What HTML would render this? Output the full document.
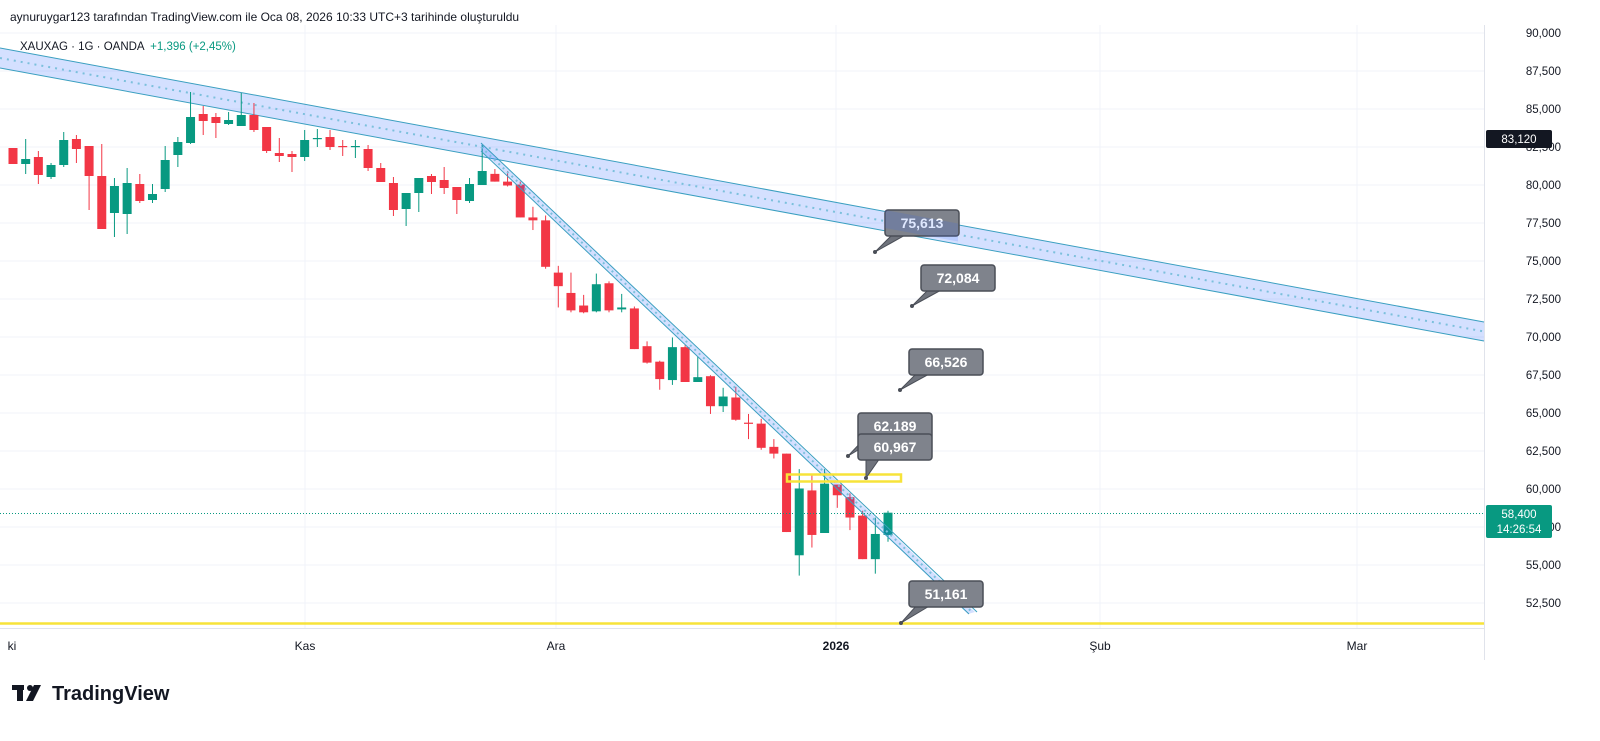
<!DOCTYPE html>
<html><head><meta charset="utf-8"><style>
html,body{margin:0;padding:0;background:#fff;width:1600px;height:741px;overflow:hidden;font-family:"Liberation Sans",sans-serif}
</style></head><body>
<svg id="s" width="1600" height="741" xmlns="http://www.w3.org/2000/svg" font-family="Liberation Sans, sans-serif"></svg>
<script>
var o='';
function y(p){return 33+(90000-p)/2500*38;}
// grid
for(var p=52500;p<=90000;p+=2500){var yy=y(p);o+='<line x1="0" y1="'+yy+'" x2="1484" y2="'+yy+'" stroke="#f0f3fa" stroke-width="1"/>';
o+='<text x="1561" y="'+(yy+4)+'" font-size="11.5" fill="#131722" text-anchor="end">'+(p/1000).toFixed(3).replace('.',',')+'</text>';}
[305,556,836,1100,1357].forEach(function(x){o+='<line x1="'+x+'" y1="25" x2="'+x+'" y2="628" stroke="#f0f3fa"/>';});
o+='<line x1="1484.5" y1="25" x2="1484.5" y2="660" stroke="#e0e3eb"/>';
o+='<line x1="0" y1="628.5" x2="1484" y2="628.5" stroke="#e0e3eb"/>';
// big channel
o+='<polygon points="0,48 1484,322 1484,341 0,68" fill="rgba(41,98,255,0.2)"/>';
o+='<line x1="0" y1="48" x2="1484" y2="322" stroke="#3a9fc0" stroke-width="1"/>';
o+='<line x1="0" y1="68" x2="1484" y2="341" stroke="#3a9fc0" stroke-width="1"/>';
o+='<line x1="0" y1="58" x2="1484" y2="331.5" stroke="#7cc0dc" stroke-width="2" stroke-dasharray="2,5"/>';
// candles
var A=[[148,164,148,164,0],[164,159,139,174,1],[157,175,151,184,0],[177,165,163,179,1],[165,140,132,167,1],[139,149,135,163,0],[146,176,146,210,0],[176,229,144,229,0],[213,186,178,237,1],[214,183,168,234,1],[184,201,174,203,0],[200,194,184,203,1],[189,160,146,192,1],[155,142,137,167,1],[143,117,92,144,1],[114,121,106,135,0],[117,123,113,138,0],[124,120,112,125,1],[126,115,93,126,1],[115,130,103,132,0],[127,151,127,153,0],[153,156,138,162,0],[154,157,151,172,0],[157,140,130,161,1],[139,138,129,147,1],[137,147,130,150,0],[146,147,140,156,0],[147,146,140,158,1],[149,168,145,171,0],[168,182,163,182,0],[183,210,177,216,0],[209,193,193,226,1],[193,178,178,212,1],[176,182,174,194,0],[180,188,167,194,0],[187,200,187,214,0],[201,184,178,203,1],[185,171,145,185,1]];
var B=[[175,183,170,183,0],[183,187,172,188,0],[186,220,183,220,0],[220,223,209,233,0],[223,271,218,273,0],[277,291,270,313,0],[298,316,277,318,0],[311,318,300,319,0],[317,289,278,318,1],[288,316,286,318,0],[315,313,299,318,1],[314,356,312,356,0],[353,370,348,371,0],[369,387,368,398,0],[388,354,344,393,1],[354,390,352,390,0],[390,385,364,390,1],[384,415,383,423,0],[415,405,396,421,1],[406,429,395,430,0],[432,433,423,449,0],[433,458,428,460,0],[457,464,449,469,0],[464,545,464,545,0],[569,500,480,590,1],[502,548,486,561,0],[546,495,480,546,1],[496,507,496,520,0],[509,530,505,543,0],[528,573,523,573,0],[573,547,530,588,1],[548,525,523,555,1]];
B=B.map(function(c){return c.map(function(v,i){return i<4?140+(v-140)*0.968:v;});});
var C=A.concat(B);
C.forEach(function(c,i){var x=13+i*(875/(C.length-1));var col=c[4]?'#089981':'#f23645';
var t=Math.min(c[0],c[1]),h=Math.max(1.2,Math.abs(c[1]-c[0]));
o+='<line x1="'+x+'" y1="'+c[2]+'" x2="'+x+'" y2="'+c[3]+'" stroke="'+col+'" stroke-width="1"/>';
o+='<rect x="'+(x-4.5)+'" y="'+t+'" width="9" height="'+h+'" fill="'+col+'"/>';});
// steep channel
o+='<polygon points="481,143 975,612 968,614 481,150" fill="rgba(41,98,255,0.2)"/>';
o+='<line x1="481" y1="143" x2="977" y2="612" stroke="#3a9fc0"/>';
o+='<line x1="481" y1="151" x2="969" y2="614" stroke="#3a9fc0"/>';
o+='<line x1="481" y1="147" x2="973" y2="613" stroke="#7cc0dc" stroke-width="2" stroke-dasharray="2,4"/>';
// current price line
o+='<line x1="0" y1="513.5" x2="1484" y2="513.5" stroke="#089981" stroke-dasharray="1,2"/>';
// yellow
o+='<rect x="787" y="474.5" width="114" height="7" fill="none" stroke="#f7e33a" stroke-width="2.5"/>';
o+='<line x1="0" y1="623.5" x2="1484" y2="623.5" stroke="#f7e33a" stroke-width="2.5"/>';
// callouts
function cl(bx,by,txt,dx,dy){
o+='<polygon points="'+(bx+8)+','+(by+24)+' '+(bx+22)+','+(by+24)+' '+dx+','+dy+'" fill="#6f737c" stroke="#4a4e57"/>';
o+='<rect x="'+bx+'" y="'+by+'" width="74" height="26" rx="3" fill="#7f838c" stroke="#4a4e57" stroke-width="1.5"/>';
o+='<text x="'+(bx+37)+'" y="'+(by+18)+'" font-size="14" font-weight="bold" fill="#fff" text-anchor="middle">'+txt+'</text>';
o+='<circle cx="'+dx+'" cy="'+dy+'" r="2" fill="#4a4e57"/>';}
cl(885,210,'75,613',875,252);
cl(921,265,'72,084',912,306);
cl(909,349,'66,526',900,390);
cl(858,413,'62.189',848,456);
cl(858,434,'60,967',866,478);
cl(909,581,'51,161',901,623);
// overlay channel piece over 75,613 box
o+='<polygon points="885,210 958,223.5 958,241.5 885,228" fill="rgba(41,98,255,0.15)"/>';
// price axis boxes
o+='<rect x="1486" y="130" width="66" height="18" rx="2" fill="#131722"/><text x="1519" y="143" font-size="11.5" fill="#fff" text-anchor="middle">83,120</text>';
o+='<rect x="1486" y="505" width="66" height="33" rx="2" fill="#089981"/><text x="1519" y="518" font-size="11.5" fill="#fff" text-anchor="middle">58,400</text><text x="1519" y="533" font-size="11.5" fill="#fff" text-anchor="middle">14:26:54</text>';
// time axis
[['ki',12,''],['Kas',305,''],['Ara',556,''],['2026',836,'bold'],['Şub',1100,''],['Mar',1357,'']].forEach(function(l){o+='<text x="'+l[1]+'" y="650" font-size="12" fill="#131722" text-anchor="middle" font-weight="'+(l[2]||'normal')+'">'+l[0]+'</text>';});
// header
o+='<text x="10" y="21" font-size="12" fill="#131722">aynuruygar123 tarafından TradingView.com ile Oca 08, 2026 10:33 UTC+3 tarihinde oluşturuldu</text>';
o+='<text x="20" y="50" font-size="11.5" fill="#131722">XAUXAG · 1G · OANDA <tspan fill="#089981" dx="3">+1,396 (+2,45%)</tspan></text>';
// logo
o+='<rect x="12" y="685" width="12" height="5" fill="#131722"/><rect x="17" y="685" width="6" height="16" fill="#131722"/><circle cx="30" cy="688" r="3" fill="#131722"/><polygon points="34,685 41,685 33,701 26,701" fill="#131722"/>';
o+='<text x="52" y="700" font-size="20" font-weight="bold" fill="#131722">TradingView</text>';
document.getElementById('s').innerHTML=o;
</script>
</body></html>
